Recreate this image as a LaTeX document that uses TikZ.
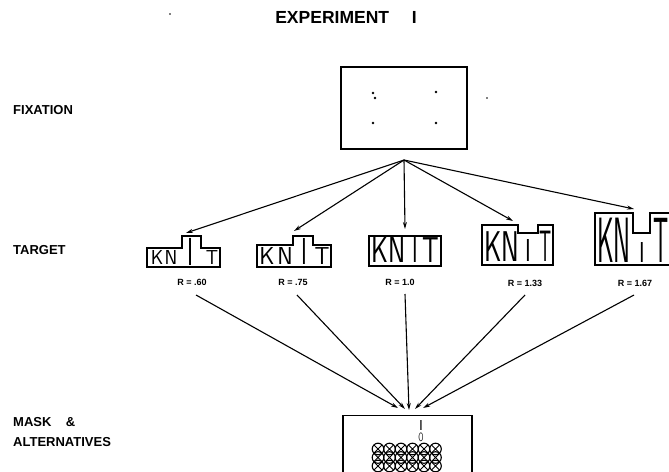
\documentclass[tikz,border=0pt]{standalone}
\usepackage{fontspec}
\setmainfont{Liberation Sans}
\usetikzlibrary{arrows.meta}
\begin{document}
\begin{tikzpicture}[x=1pt,y=-1pt,
  frame/.style={draw, line width=1.4pt, inner sep=0pt},
  arr/.style={-{Stealth[length=7pt,width=4pt]}, line width=1.1pt},
  side/.style={font=\bfseries\fontsize{13}{15}\selectfont, anchor=west, inner sep=0pt},
  rlab/.style={font=\bfseries\fontsize{9}{11}\selectfont, inner sep=0pt},
  ltr/.style 2 args={font=\sffamily\fontsize{#1}{#1}\selectfont, xscale=#2, inner sep=0pt, anchor=base},
  dot/.style={fill=black}]
\useasboundingbox (0,0) rectangle (669,471);
\clip (0,0) rectangle (669,471);

% title
\node[font=\bfseries\fontsize{17.5}{19}\selectfont, inner sep=0pt] (title) at (346,17) {EXPERIMENT\hspace{1.3em}I};
\fill (170,14) circle (0.9);

% side labels
\node[side] (lfix) at (13,110) {FIXATION};
\node[side] (ltar) at (13,250) {TARGET};
\node[side] (lmask) at (13,422) {MASK\hspace{1.1em}\&};
\node[side] (lalt) at (13,442) {ALTERNATIVES};

% fixation display
\node[frame, minimum width=126, minimum height=82] (fix) at (404,108) {};
\fill (373,93) circle (1.3);
\fill (375,98) circle (1.4);
\fill (436,92) circle (1.3);
\fill (373,123) circle (1.3);
\fill (436,123) circle (1.3);
\fill (487,98) circle (0.9);
\coordinate (apex) at (404,160);

% target 1  R=.60
\draw[frame] (147,267) -- (147,248) -- (182,248) -- (182,236) -- (201,236) -- (201,248) -- (220,248) -- (220,267) -- cycle;
\node[ltr={20.2}{0.95}] (k1) at (157,264) {K};
\node[ltr={20.2}{0.95}] (n1) at (171,264) {N};
\node[ltr={39}{0.6}] (i1) at (191,265) {I};
\node[ltr={20.2}{0.95}] (x1) at (212,264) {T};
\node[rlab] (r1) at (192,282) {R = .60};
\coordinate (t1) at (186,233);
\coordinate (s1) at (196,295);

% target 2  R=.75
\draw[frame] (257,267) -- (257,245) -- (293,245) -- (293,236) -- (313,236) -- (313,245) -- (331,245) -- (331,267) -- cycle;
\node[ltr={24.5}{0.95}] (k2) at (267,264) {K};
\node[ltr={24.5}{0.95}] (n2) at (285,264) {N};
\node[ltr={37.5}{0.6}] (i2) at (304,264) {I};
\node[ltr={24.5}{0.95}] (x2) at (322,264) {T};
\node[rlab] (r2) at (293,282) {R = .75};
\coordinate (t2) at (294,231);
\coordinate (s2) at (297,295);

% target 3  R=1.0
\draw[frame] (369,236) rectangle (441,266);
\node[ltr={36}{0.72}] (k3) at (380,262) {K};
\node[ltr={36}{0.72}] (n3) at (397,262) {N};
\node[ltr={36}{0.6}] (i3) at (415,262) {I};
\node[ltr={36}{0.72}] (x3) at (431,262) {T};
\node[rlab] (r3) at (400,282) {R = 1.0};
\coordinate (t3) at (405,229);
\coordinate (s3) at (405,294);

% target 4  R=1.33
\draw[frame] (482,265) -- (482,225) -- (518,225) -- (518,233) -- (538,233) -- (538,225) -- (553,225) -- (553,265) -- cycle;
\node[ltr={43}{0.62}] (k4) at (493,261) {K};
\node[ltr={43}{0.62}] (n4) at (510,261) {N};
\node[ltr={31.7}{0.7}] (i4) at (528,261) {I};
\node[ltr={44}{0.43}] (x4) at (546,261) {T};
\node[rlab] (r4) at (525,283) {R = 1.33};
\coordinate (t4) at (513,221);
\coordinate (s4) at (525,295);

% target 5  R=1.67
\draw[frame] (595,265) -- (595,213) -- (633,213) -- (633,233) -- (650,233) -- (650,213) -- (685,213) -- (685,265) -- cycle;
\node[ltr={64}{0.4}] (k5) at (606,262) {K};
\node[ltr={64}{0.4}] (n5) at (622,262) {N};
\node[ltr={28.8}{0.75}] (i5) at (642,262) {I};
\node[ltr={64}{0.37}] (x5) at (661,262) {T};
\node[rlab] (r5) at (635,283) {R = 1.67};
\coordinate (t5) at (634,209);
\coordinate (s5) at (634,295);

% mask & alternatives display
\node[frame, minimum width=129, minimum height=90, anchor=north] (mask) at (407.5,415) {};
\node[ltr={14.4}{1}] (altI) at (421,430) {I};
\node[ltr={12}{0.6}] (altO) at (421,441) {O};
\foreach \r in {0,1,2}{
  \foreach \c in {0,...,5}{
    \pgfmathsetmacro{\cx}{378+11.5*\c}
    \pgfmathsetmacro{\cy}{449+8.5*\r}
    \draw[line width=1.1pt] (\cx,\cy) circle (5.8);
    \draw[line width=0.9pt] (\cx-4,\cy-4) -- (\cx+4,\cy+4)
                            (\cx-4,\cy+4) -- (\cx+4,\cy-4);
  }
}
\coordinate (m1) at (398,408);
\coordinate (m2) at (405,409);
\coordinate (m3) at (409,410);
\coordinate (m4) at (415,409);
\coordinate (m5) at (423,408);

% connectors
\foreach \i in {1,...,5}{
  \draw[arr] (apex) -- (t\i);
  \draw[arr] (s\i) -- (m\i);
}
\end{tikzpicture}
\end{document}
